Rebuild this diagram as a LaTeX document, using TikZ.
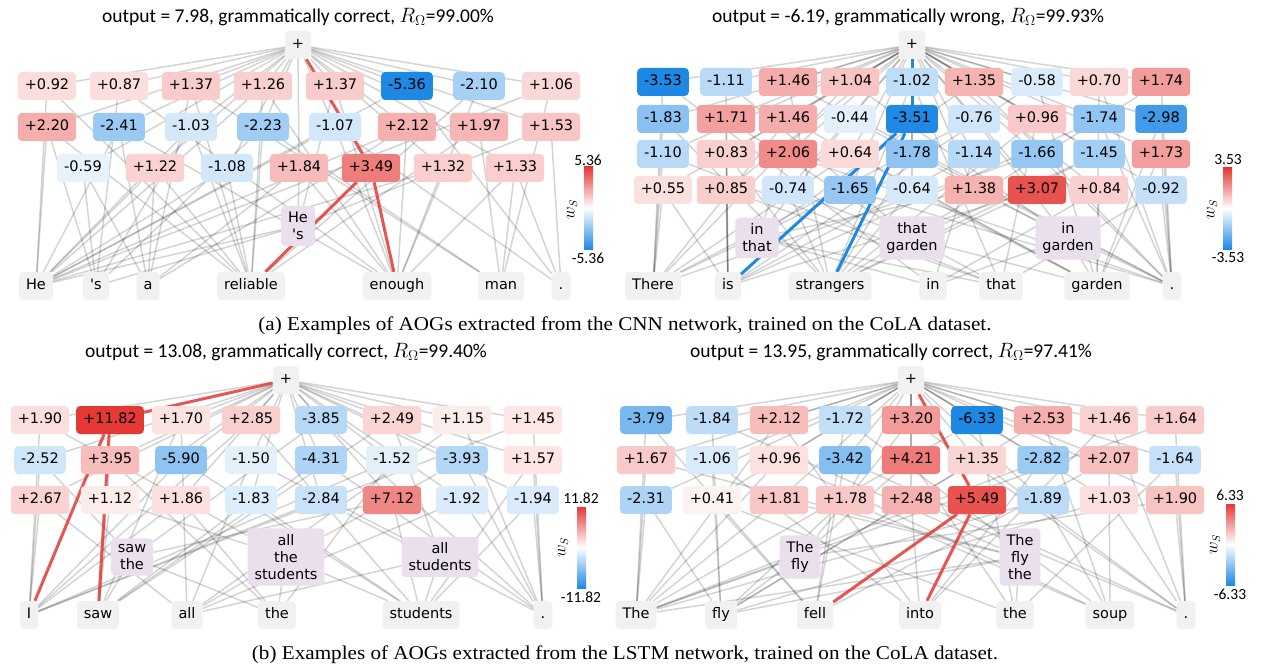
\documentclass[tikz,border=0pt]{standalone}
\usepackage{fontspec}
\setmainfont{Liberation Serif}
\newfontfamily\djv{DejaVu Sans}
\newfontfamily\crl{Carlito}
\definecolor{cR}{RGB}{229,57,53}
\definecolor{cB}{RGB}{30,136,229}
\definecolor{gbox}{RGB}{241,241,241}
\definecolor{lav}{RGB}{234,223,237}
\pgfdeclarelayer{bgw}
\pgfdeclarelayer{bg}
\pgfsetlayers{bgw,bg,main}
\tikzset{
 pat/.style={rounded corners=4pt, inner xsep=7pt, inner ysep=0pt, minimum height=28pt, text height=10.5pt, text depth=3pt, font=\djv\fontsize{14.5}{17}\selectfont},
 wd/.style={pat, fill=gbox},
 ph/.style={rounded corners=4pt, fill=lav, inner xsep=7pt, inner ysep=6pt, align=center, font=\djv\fontsize{14.5}{17}\selectfont},
 ge/.style={draw=black, draw opacity=0.17, line width=1.5pt},
 rge/.style={draw=cR, draw opacity=0.85, line width=3pt},
 bge/.style={draw=cB, line width=3pt},
 ttl/.style={font=\crl\fontsize{19.5}{22}\selectfont},
 cbl/.style={font=\crl\fontsize{15.5}{17}\selectfont},
 wsl/.style={rotate=90, font=\fontsize{16}{18}\selectfont},
 captxt/.style={font=\fontsize{19.5}{22}\selectfont, xscale=1.084},
}
\newcommand\pb[5]{\pgfmathsetmacro\vv{0#4}\pgfmathsetmacro\pp{abs(\vv)/#5*100}\ifdim\vv pt<0pt\def\cc{cB}\else\def\cc{cR}\fi\node[pat,fill=\cc!\pp!white] (#1) at (#2,#3) {#4};}
\begin{document}
\begin{tikzpicture}[x=1pt,y=-1pt]
\useasboundingbox (0,0) rectangle (1262,666);
\begin{pgfonlayer}{bgw}
\fill[white] (0,0) rectangle (1262,666);
\end{pgfonlayer}
% ================= Panel A =================
\node[ttl] (Attl) at (298,17) {output = 7.98, grammatically correct, $R_{\Omega}$=99.00\%};
\node[wd] (Atop) at (298,45) {+};
\foreach \x/\v [count=\i] in {47/+0.92,119/+0.87,191/+1.37,263/+1.26,335/+1.37,407/-5.36,479/-2.10,551/+1.06} {\pb{A1\i}{\x}{86}{\v}{5.36}}
\foreach \x/\v [count=\i] in {47/+2.20,119/-2.41,191/-1.03,263/-2.23,335/-1.07,407/+2.12,479/+1.97,551/+1.53} {\pb{A2\i}{\x}{127}{\v}{5.36}}
\foreach \x/\v [count=\i] in {83/-0.59,155/+1.22,227/-1.08,299/+1.84,371/+3.49,443/+1.32,515/+1.33} {\pb{A3\i}{\x}{168}{\v}{5.36}}
\node[ph] (Ap1) at (298,226) {He\\\textquotesingle s};
\node[wd] (Aw1) at (36,286) {He};
\node[wd] (Aw2) at (96,286) {\textquotesingle s};
\node[wd] (Aw3) at (148,286) {a};
\node[wd] (Aw4) at (251,286) {reliable};
\node[wd] (Aw5) at (397,286) {enough};
\node[wd] (Aw6) at (501,286) {man};
\node[wd] (Aw7) at (561,286) {.};
\shade[top color=cR, bottom color=cB, middle color=white] (584,167) rectangle (593,249);
\node[cbl] (Acbt) at (588,160) {5.36};
\node[cbl] (Acbb) at (588,258) {-5.36};
\node[wsl] (Acbw) at (572,210) {$w_S$};
% ================= Panel B =================
\node[ttl] (Bttl) at (908,17) {output = -6.19, grammatically wrong, $R_{\Omega}$=99.93\%};
\node[wd] (Btop) at (912,45) {+};
\foreach \x/\v [count=\i] in {663/-3.53,726/-1.11,788/+1.46,850/+1.04,912/-1.02,974/+1.35,1037/-0.58,1099/+0.70,1161/+1.74} {\pb{B1\i}{\x}{82}{\v}{3.53}}
\foreach \x/\v [count=\i] in {663/-1.83,726/+1.71,788/+1.46,850/-0.44,912/-3.51,974/-0.76,1037/+0.96,1099/-1.74,1161/-2.98} {\pb{B2\i}{\x}{119}{\v}{3.53}}
\foreach \x/\v [count=\i] in {663/-1.10,726/+0.83,788/+2.06,850/+0.64,912/-1.78,974/-1.14,1037/-1.66,1099/-1.45,1161/+1.73} {\pb{B3\i}{\x}{154}{\v}{3.53}}
\foreach \x/\v [count=\i] in {663/+0.55,726/+0.85,788/-0.74,850/-1.65,912/-0.64,974/+1.38,1037/+3.07,1099/+0.84,1161/-0.92} {\pb{B4\i}{\x}{190}{\v}{3.53}}
\node[ph] (Bp1) at (757,238) {in\\that};
\node[ph] (Bp2) at (912,238) {that\\garden};
\node[ph] (Bp3) at (1068,238) {in\\garden};
\node[wd] (Bw1) at (653,286) {There};
\node[wd] (Bw2) at (728,286) {is};
\node[wd] (Bw3) at (830,286) {strangers};
\node[wd] (Bw4) at (933,286) {in};
\node[wd] (Bw5) at (1001,286) {that};
\node[wd] (Bw6) at (1097,286) {garden};
\node[wd] (Bw7) at (1172,286) {.};
\shade[top color=cR, bottom color=cB, middle color=white] (1223,168) rectangle (1232,249);
\node[cbl] (Bcbt) at (1228,160) {3.53};
\node[cbl] (Bcbb) at (1228,258) {-3.53};
\node[wsl] (Bcbw) at (1212,210) {$w_S$};
% ================= Panel C =================
\node[ttl] (Cttl) at (286,352) {output = 13.08, grammatically correct, $R_{\Omega}$=99.40\%};
\node[wd] (Ctop) at (286,380) {+};
\foreach \x/\v [count=\i] in {40/+1.90,110/+11.82,181/+1.70,251/+2.85,321/-3.85,392/+2.49,462/+1.15,533/+1.45} {\pb{C1\i}{\x}{420}{\v}{11.82}}
\foreach \x/\v [count=\i] in {40/-2.52,110/+3.95,181/-5.90,251/-1.50,321/-4.31,392/-1.52,462/-3.93,533/+1.57} {\pb{C2\i}{\x}{460}{\v}{11.82}}
\foreach \x/\v [count=\i] in {40/+2.67,110/+1.12,181/+1.86,251/-1.83,321/-2.84,392/+7.12,462/-1.92,533/-1.94} {\pb{C3\i}{\x}{500}{\v}{11.82}}
\node[ph] (Cp1) at (132,557) {saw\\the};
\node[ph] (Cp2) at (286,557) {all\\the\\students};
\node[ph] (Cp3) at (440,557) {all\\students};
\node[wd] (Cw1) at (29,615) {I};
\node[wd] (Cw2) at (98,615) {saw};
\node[wd] (Cw3) at (187,615) {all};
\node[wd] (Cw4) at (277,615) {the};
\node[wd] (Cw5) at (421,615) {students};
\node[wd] (Cw6) at (543,615) {.};
\shade[top color=cR, bottom color=cB, middle color=white] (577,507) rectangle (586,588);
\node[cbl] (Ccbt) at (581,498) {11.82};
\node[cbl] (Ccbb) at (581,597) {-11.82};
\node[wsl] (Ccbw) at (563,548) {$w_S$};
% ================= Panel D =================
\node[ttl] (Dttl) at (891,352) {output = 13.95, grammatically correct, $R_{\Omega}$=97.41\%};
\node[wd] (Dtop) at (911,380) {+};
\foreach \x/\v [count=\i] in {646/-3.79,712/-1.84,779/+2.12,845/-1.72,911/+3.20,977/-6.33,1043/+2.53,1109/+1.46,1175/+1.64} {\pb{D1\i}{\x}{420}{\v}{6.33}}
\foreach \x/\v [count=\i] in {646/+1.67,712/-1.06,779/+0.96,845/-3.42,911/+4.21,977/+1.35,1043/-2.82,1109/+2.07,1175/-1.64} {\pb{D2\i}{\x}{460}{\v}{6.33}}
\foreach \x/\v [count=\i] in {646/-2.31,712/+0.41,779/+1.81,845/+1.78,911/+2.48,977/+5.49,1043/-1.89,1109/+1.03,1175/+1.90} {\pb{D3\i}{\x}{500}{\v}{6.33}}
\node[ph] (Dp1) at (800,557) {The\\fly};
\node[ph] (Dp2) at (1020,557) {The\\fly\\the};
\node[wd] (Dw1) at (636,615) {The};
\node[wd] (Dw2) at (721,615) {fly};
\node[wd] (Dw3) at (815,615) {fell};
\node[wd] (Dw4) at (920,615) {into};
\node[wd] (Dw5) at (1015,615) {the};
\node[wd] (Dw6) at (1110,615) {soup};
\node[wd] (Dw7) at (1186,615) {.};
\shade[top color=cR, bottom color=cB, middle color=white] (1226,504) rectangle (1235,585);
\node[cbl] (Dcbt) at (1230,495) {6.33};
\node[cbl] (Dcbb) at (1230,594) {-6.33};
\node[wsl] (Dcbw) at (1215,545) {$w_S$};
% ================= Captions =================
\node[captxt] (capa) at (625,326) {(a) Examples of AOGs extracted from the CNN network, trained on the CoLA dataset.};
\node[captxt] (capb) at (625,655) {(b) Examples of AOGs extracted from the LSTM network, trained on the CoLA dataset.};
% ================= Edges =================
\begin{pgfonlayer}{bg}
\foreach \n in {A11,A12,A13,A14,A15,A16,A17,A18,A21,A22,A23,A24,A25,A26,A27,A28,A31,A32,A33,A34,A36,A37} {\draw[ge] (Atop) -- (\n);}
\foreach \a/\b in {A11/Aw1,A11/Aw4,A12/Aw2,A12/Aw5,A13/Aw3,A13/Aw4,A13/Aw6,A14/Aw1,A14/Aw4,A14/Aw5,A15/Ap1,A15/Aw5,A16/Aw1,A16/Aw7,A17/Aw4,A17/Aw5,A18/Aw1,A18/Aw6,
 A21/Aw1,A21/Aw2,A21/Aw4,A22/Aw1,A22/Aw3,A22/Aw5,A23/Aw1,A23/Aw2,A23/Aw4,A24/Aw2,A24/Aw4,A24/Aw6,A25/Aw1,A25/Aw5,A25/Aw7,A26/Aw1,A26/Aw3,A26/Aw5,A27/Aw4,A27/Aw6,A28/Ap1,A28/Aw7,
 A31/Aw2,A31/Aw3,A32/Aw1,A32/Aw3,A32/Aw4,A33/Aw1,A33/Aw4,A34/Aw3,A34/Ap1,A34/Aw5,A36/Aw1,A36/Aw5,A37/Aw5,A37/Aw6,A37/Aw7,Ap1/Aw1,Ap1/Aw2} {\draw[ge] (\a) -- (\b);}
\draw[rge] (Atop) -- (A35);
\draw[rge] (A35) -- (Aw4);
\draw[rge] (A35) -- (Aw5);
%
\foreach \n in {B11,B12,B13,B14,B15,B16,B17,B18,B19,B21,B22,B23,B24,B26,B27,B28,B29,B31,B32,B33,B34,B35,B36,B37,B38,B39,B41,B42,B43,B44,B45,B46,B47,B48,B49} {\draw[ge] (Btop) -- (\n);}
\foreach \a/\b in {B11/Bw1,B11/Bw4,B12/Bw2,B12/Bp2,B13/Bw3,B13/Bw7,B14/Bw1,B14/Bp3,B15/Bw3,B15/Bw5,B16/Bp1,B16/Bw7,B17/Bw2,B17/Bw6,B18/Bw6,B18/Bw7,B19/Bw3,B19/Bw7,
 B21/Bw1,B21/Bw3,B22/Bw2,B22/Bp2,B23/Bw1,B23/Bw6,B24/Bp1,B24/Bw7,B26/Bw1,B26/Bp3,B27/Bw3,B27/Bw5,B28/Bw2,B28/Bw7,B29/Bw6,B29/Bw7,
 B31/Bw1,B31/Bw5,B32/Bw2,B32/Bw3,B33/Bp1,B33/Bw7,B34/Bw1,B34/Bw6,B35/Bw3,B35/Bp3,B36/Bw2,B36/Bw4,B37/Bw1,B37/Bw7,B38/Bp2,B38/Bw3,B39/Bw6,B39/Bw7,
 B41/Bw1,B41/Bw2,B42/Bw2,B42/Bw5,B43/Bw3,B43/Bp2,B44/Bw1,B44/Bw7,B45/Bw3,B45/Bw6,B46/Bp1,B46/Bw7,B47/Bw2,B47/Bw3,B48/Bw4,B48/Bw6,B49/Bw5,B49/Bw7,
 Bp1/Bw4,Bp1/Bw5,Bp2/Bw5,Bp2/Bw6,Bp3/Bw4,Bp3/Bw6} {\draw[ge] (\a) -- (\b);}
\draw[bge] (Btop) -- (B25);
\draw[bge] (B25) -- (Bw2);
\draw[bge] (B25) -- (Bw3);
%
\foreach \n in {C11,C13,C14,C15,C16,C17,C18,C21,C22,C23,C24,C25,C26,C27,C28,C31,C32,C33,C34,C35,C36,C37,C38} {\draw[ge] (Ctop) -- (\n);}
\foreach \a/\b in {C11/Cw1,C11/Cp2,C13/Cw2,C13/Cw3,C14/Cw1,C14/Cw5,C15/Cp1,C15/Cw6,C16/Cw2,C16/Cp3,C17/Cw3,C17/Cw6,C18/Cw1,C18/Cw6,
 C21/Cw1,C21/Cp1,C22/Cw2,C22/Cw4,C23/Cw1,C23/Cw5,C24/Cw3,C24/Cp3,C25/Cw2,C25/Cw6,C26/Cw1,C26/Cw4,C27/Cp2,C27/Cw6,C28/Cw5,C28/Cw6,
 C31/Cw1,C31/Cw3,C32/Cw2,C32/Cp2,C33/Cw1,C33/Cw4,C34/Cw2,C34/Cw5,C35/Cw1,C35/Cw6,C36/Cp1,C36/Cw5,C37/Cw3,C37/Cw6,C38/Cw6,C38/Cw5,
 Cp1/Cw2,Cp1/Cw4,Cp2/Cw3,Cp2/Cw4,Cp2/Cw5,Cp3/Cw3,Cp3/Cw5} {\draw[ge] (\a) -- (\b);}
\draw[rge] (Ctop) -- (C12);
\draw[rge] (C12) -- (Cw1);
\draw[rge] (C12) -- (Cw2);
%
\foreach \n in {D11,D12,D13,D14,D15,D16,D17,D18,D19,D21,D22,D23,D24,D25,D26,D27,D28,D29,D31,D32,D33,D34,D35,D37,D38,D39} {\draw[ge] (Dtop) -- (\n);}
\foreach \a/\b in {D11/Dw1,D11/Dw3,D12/Dw2,D12/Dp2,D13/Dw1,D13/Dw4,D14/Dw3,D14/Dw6,D15/Dp1,D15/Dw7,D16/Dw1,D16/Dw5,D17/Dw2,D17/Dw6,D18/Dw4,D18/Dw7,D19/Dw1,D19/Dw7,
 D21/Dw1,D21/Dp2,D22/Dw2,D22/Dw4,D23/Dw1,D23/Dw6,D24/Dw3,D24/Dw7,D25/Dp1,D25/Dw5,D26/Dw2,D26/Dw7,D27/Dw1,D27/Dw4,D28/Dw3,D28/Dw6,D29/Dw5,D29/Dw7,
 D31/Dw1,D31/Dw2,D32/Dw3,D32/Dw5,D33/Dw1,D33/Dp2,D34/Dw2,D34/Dw6,D35/Dw4,D35/Dw7,D37/Dw1,D37/Dw6,D38/Dw2,D38/Dw7,D39/Dp1,D39/Dw7,
 Dp1/Dw1,Dp1/Dw2,Dp2/Dw1,Dp2/Dw2,Dp2/Dw5} {\draw[ge] (\a) -- (\b);}
\draw[rge] (Dtop) -- (D36);
\draw[rge] (D36) -- (Dw3);
\draw[rge] (D36) -- (Dw4);
\end{pgfonlayer}
\end{tikzpicture}
\end{document}
